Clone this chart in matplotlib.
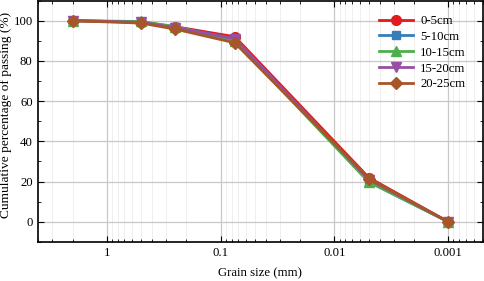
import numpy as np
import matplotlib
matplotlib.use("Agg")
import matplotlib.pyplot as plt
from matplotlib.ticker import FixedLocator, FixedFormatter, MultipleLocator, LogLocator, NullFormatter

plt.rcParams['font.family'] = ['Liberation Serif', 'DejaVu Serif']
plt.rcParams['mathtext.fontset'] = 'stix'

# Dados
grain_size = [2, 0.5, 0.25, 0.075, 0.005, 0.001]
labels = ['0-5cm', '5-10cm', '10-15cm', '15-20cm', '20-25cm']
passing = [
    [100, 99.3, 97.0, 92.0, 22.0, 0],
    [100, 99.3, 96.8, 91.0, 20.0, 0],
    [100, 99.6, 97.0, 90.0, 19.8, 0],
    [100, 99.2, 96.5, 91.0, 21.0, 0],
    [100, 98.8, 95.8, 89.0, 21.5, 0],
]
colors = ['#e41a1c', '#377eb8', '#4daf4a', '#984ea3', '#a65628']
markers = ['o', 's', '^', 'v', 'D']
msizes = [7, 6, 7, 7, 6]

xticks = [1, 0.1, 0.01, 0.001]
xticklabels = ['1', '0.1', '0.01', '0.001']

fig = plt.figure(figsize=(4.84, 2.81), dpi=100)
ax = fig.add_axes([0.079, 0.139, 0.918, 0.859])

for i in range(len(labels)):
    ax.plot(grain_size, passing[i], color=colors[i], marker=markers[i],
            markersize=msizes[i], linewidth=2, label=labels[i])

ax.set_xscale('log')
ax.set_xlim(4, 0.0005)
ax.set_ylim(-10, 110)

ax.xaxis.set_major_locator(FixedLocator(xticks))
ax.xaxis.set_major_formatter(FixedFormatter(xticklabels))
ax.xaxis.set_minor_locator(LogLocator(base=10, subs=np.arange(2, 10)))
ax.xaxis.set_minor_formatter(NullFormatter())
ax.yaxis.set_major_locator(MultipleLocator(20))
ax.yaxis.set_minor_locator(MultipleLocator(10))
ax.set_yticks([0, 20, 40, 60, 80, 100])

ax.grid(True, which='major', color='#c8c8c8', linewidth=0.9)
ax.grid(True, which='minor', axis='x', color='#ececec', linewidth=0.6)
ax.set_axisbelow(True)

ax.tick_params(which='both', direction='in', top=True, right=True, labelsize=9.2, pad=4)
ax.tick_params(which='major', length=4)
ax.tick_params(which='minor', length=2)
for s in ax.spines.values():
    s.set_linewidth(1.2)

ax.set_xlabel('Grain size (mm)', fontsize=9.2, labelpad=5.5)
ax.set_ylabel('Cumulative percentage of passing (%)', fontsize=9.6)
ax.yaxis.set_label_coords(-0.058, 0.525)

ax.legend(loc='upper right', frameon=False, fontsize=9.2, handlelength=2.7,
          handletextpad=0.55, labelspacing=0.3, borderpad=0, borderaxespad=0,
          bbox_to_anchor=(0.962, 0.94))

fig.savefig('out.png', dpi=100)
